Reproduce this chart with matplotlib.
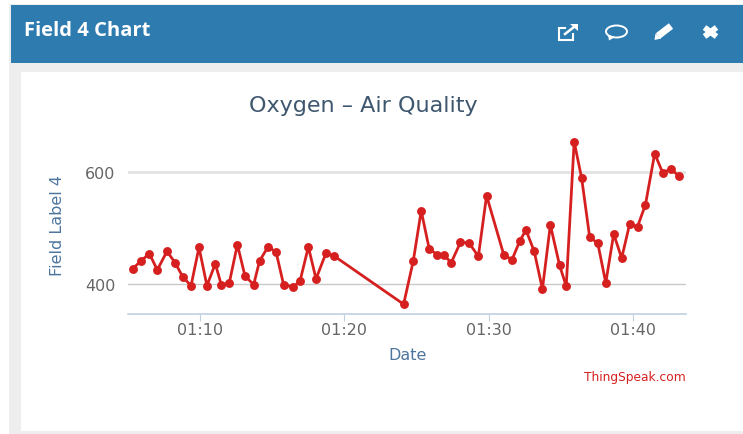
import matplotlib
matplotlib.use("Agg")
import matplotlib.pyplot as plt
from matplotlib.patches import Rectangle, Ellipse, Polygon

plt.rcParams["font.family"] = ["DejaVu Sans"]

minutes = [5.33, 5.91, 6.49, 7.04, 7.71, 8.27, 8.82, 9.38, 9.93, 10.48, 11.06, 11.48, 12.03,
           12.59, 13.12, 13.72, 14.13, 14.71, 15.27, 15.80, 16.47, 16.93, 17.51, 18.04, 18.73,
           19.28, 24.11, 24.78, 25.33, 25.88, 26.43, 26.91, 27.41, 28.05, 28.65, 29.29, 29.86,
           31.05, 31.62, 32.17, 32.59, 33.16, 33.73, 34.28, 34.92, 35.38, 35.93, 36.45, 37.00,
           37.57, 38.12, 38.67, 39.22, 39.77, 40.32, 40.87, 41.51, 42.06, 42.63, 43.20]
oxygen = [427, 441, 454, 425, 458, 438, 412, 397, 465, 397, 436, 398, 402,
          470, 414, 399, 441, 466, 457, 398, 395, 405, 466, 409, 455,
          450, 364, 441, 530, 463, 452, 451, 438, 474, 473, 449, 557,
          452, 443, 477, 496, 458, 391, 505, 433, 396, 653, 588, 484,
          472, 402, 489, 446, 506, 502, 541, 632, 598, 604, 592]
x_ticks = [10, 20, 30, 40]
x_tick_labels = ["01:10", "01:20", "01:30", "01:40"]
y_ticks = [400, 600]

W, H = 743, 435
fig = plt.figure(figsize=(W / 100, H / 100), dpi=100, facecolor="white")

# Page furniture in pixel coordinates
bg = fig.add_axes([0, 0, 1, 1], zorder=0)
bg.set_xlim(0, W)
bg.set_ylim(H, 0)
bg.axis("off")
bg.add_patch(Rectangle((9, 5), W - 9, H - 5, fc="#eeeeee", ec="none"))
bg.add_patch(Rectangle((11, 6), W - 11, 58, fc="#2e7bb0", ec="none"))
bg.add_patch(Rectangle((21, 73), W - 21, 359, fc="white", ec="none"))
bg.text(24, 31, "Field 4 Chart", color="white", fontsize=14.5, fontweight="bold",
        family="Open Sans", va="center", ha="left")

# Header icons
bg.add_patch(Rectangle((558.5, 29), 14, 11.5, fc="none", ec="white", lw=1.5))
bg.add_patch(Rectangle((566, 26), 9, 8, fc="#2e7bb0", ec="none"))
bg.plot([565, 574], [35, 28], color="white", lw=1.8)
bg.add_patch(Polygon([(570, 25), (578, 25), (578, 31.5)], fc="white", ec="none"))
bg.add_patch(Ellipse((616.5, 32.5), 21, 12, fc="none", ec="white", lw=1.4))
bg.add_patch(Polygon([(608, 36), (609, 41.5), (615, 38)], fc="white", ec="none"))
bg.plot([658, 671], [37, 27], color="white", lw=5, solid_capstyle="butt")
bg.add_patch(Polygon([(654.5, 41), (655.5, 34.5), (661, 39.5)], fc="white", ec="none"))
bg.plot([704.5, 716.5], [28.5, 37.5], color="white", lw=4.2, solid_capstyle="butt")
bg.plot([704.5, 716.5], [37.5, 28.5], color="white", lw=4.2, solid_capstyle="butt")

# Chart
left, right, top, bottom = 128, 686, 140, 314.5
ax = fig.add_axes([left / W, 1 - bottom / H, (right - left) / W, (bottom - top) / H], zorder=1)
ax.patch.set_alpha(0)
ax.set_xlim(5.01, 43.68)
ax.set_ylim(347.5, 657.8)
for s in ("top", "right", "left"):
    ax.spines[s].set_visible(False)
ax.spines["bottom"].set_color("#c0d0e0")
ax.spines["bottom"].set_linewidth(1.2)
ax.set_xticks(x_ticks)
ax.set_xticklabels(x_tick_labels)
ax.set_yticks(y_ticks)
ax.tick_params(axis="x", length=5, color="#c0d0e0", labelcolor="#666666", labelsize=11.5, pad=1)
ax.tick_params(axis="y", length=0, labelcolor="#666666", labelsize=11.5, pad=9)
ygrid = ax.get_ygridlines()
ax.grid(axis="y")
ygrid[0].set(color="#c9c9c9", lw=1.0)
ygrid[1].set(color="#e3e3e3", lw=2.0)
ax.set_axisbelow(True)
ax.plot(minutes, oxygen, color="#d62020", lw=2.0, marker="o", ms=6.4, mew=0, clip_on=False)

fig.text(363 / W, 1 - 106 / H, "Oxygen \u2013 Air Quality", color="#3e576f", fontsize=16,
         ha="center", va="center")
fig.text(408 / W, 1 - 356 / H, "Date", color="#4d759e", fontsize=11.5, ha="center", va="center")
fig.text(58 / W, 1 - 226 / H, "Field Label 4", color="#4d759e", fontsize=11.5, rotation=90,
         ha="center", va="center")
fig.text(686 / W, 1 - 378 / H, "ThingSpeak.com", color="#d62020", fontsize=8.8,
         ha="right", va="center")

fig.savefig("out.png", dpi=100)
